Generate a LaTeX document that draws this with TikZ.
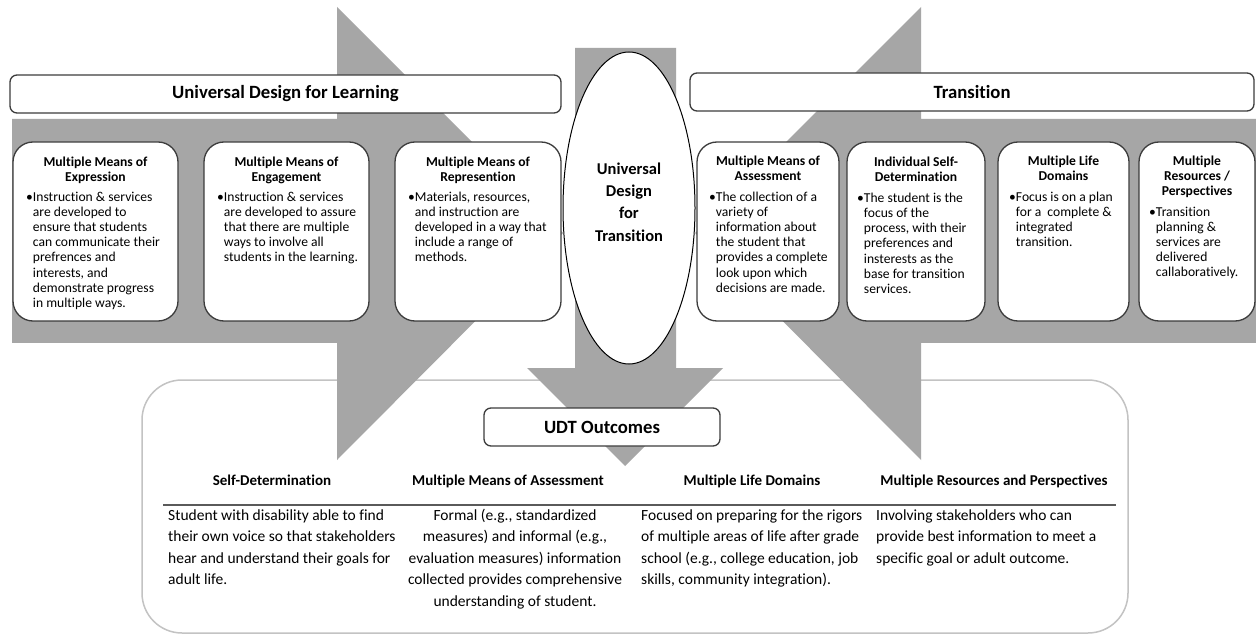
\documentclass[tikz,border=0pt]{standalone}
\usepackage{fontspec}
\setmainfont{Carlito}[Ligatures={NoCommon}]
\usetikzlibrary{shapes.geometric}
\definecolor{arrowgray}{RGB}{166,166,166}
\definecolor{boxline}{RGB}{60,60,60}
\definecolor{outline}{RGB}{195,195,195}
\definecolor{rulecol}{RGB}{90,90,90}
\newcommand\hs[1]{\rule{0pt}{#1}}
\newcommand\ind{\hphantom{•}}
\begin{document}
\begin{tikzpicture}[x=1pt,y=-1pt,
  card/.style={draw=boxline, line width=1.3pt, fill=white, rounded corners=20pt, inner sep=0pt, minimum height=179pt},
  headbox/.style={draw=boxline, line width=1.3pt, fill=white, rounded corners=7pt, inner sep=0pt, minimum height=38pt, font=\fontsize{18.7}{22}\selectfont\bfseries},
  ttl/.style={font=\fontsize{13.6}{15}\selectfont\bfseries, align=center, inner sep=0pt, anchor=north},
  bdy/.style={font=\fontsize{13.6}{15.2}\selectfont, align=left, inner sep=0pt, anchor=north west},
  thd/.style={font=\fontsize{15}{18}\selectfont\bfseries, inner sep=0pt, anchor=base},
  tbl/.style={font=\fontsize{15.5}{21.5}\selectfont, inner sep=0pt},
  bigarrow/.style={fill=arrowgray}
]
\useasboundingbox (0,0) rectangle (1256,636);
\fill[white] (0,0) rectangle (1256,636);

% outcomes frame
\node[draw=outline, line width=1.5pt, rounded corners=40pt, fill=white, inner sep=0pt,
      minimum width=986pt, minimum height=253pt] (out) at (635,506.5) {};

% grey arrows
\fill[bigarrow] (12,119) -- (337,119) -- (337,7) -- (563,233) -- (337,460) -- (337,343) -- (12,343) -- cycle;
\fill[bigarrow] (1256,119) -- (921,119) -- (921,7) -- (695,233) -- (921,460) -- (921,343) -- (1256,343) -- cycle;
\fill[bigarrow] (575,48) -- (676,48) -- (676,368) -- (723,368) -- (625,466) -- (527,368) -- (575,368) -- cycle;

% header bars
\node[headbox, minimum width=551pt] (udl) at (285.5,94) {Universal Design for Learning};
\node[headbox, minimum width=564pt] (trn) at (972,92) {Transition};

% ellipse
\node[draw=black, line width=1pt, fill=white, ellipse, inner sep=0pt,
      minimum width=132pt, minimum height=312pt] (udt) at (629,208) {};
\node[font=\fontsize{16.5}{22.4}\selectfont\bfseries, align=center, inner sep=0pt, anchor=north]
  (udtt) at (629,162) {\hs{12pt}Universal\\Design\\for\\Transition};

% cards
\node[card, minimum width=165pt] (c1) at (95.5,231.5) {};
\node[card, minimum width=165pt] (c2) at (286.5,231.5) {};
\node[card, minimum width=166pt] (c3) at (478,231.5) {};
\node[card, minimum width=142pt] (c4) at (768,231.5) {};
\node[card, minimum width=138pt] (c5) at (916,231.5) {};
\node[card, minimum width=131pt] (c6) at (1063.5,231.5) {};
\node[card, minimum width=116pt] (c7) at (1197,231.5) {};

\node[ttl] (t1) at (95.5,155) {\hs{11pt}Multiple Means of\\Expression};
\node[ttl] (t2) at (286.5,155) {\hs{11pt}Multiple Means of\\Engagement};
\node[ttl] (t3) at (478,155) {\hs{11pt}Multiple Means of\\Represention};
\node[ttl] (t4) at (768,154) {\hs{11pt}Multiple Means of\\Assessment};
\node[ttl] (t5) at (916,155) {\hs{11pt}Individual Self-\\Determination};
\node[ttl] (t6) at (1063.5,154) {\hs{11pt}Multiple Life\\Domains};
\node[ttl] (t7) at (1197,154) {\hs{11pt}Multiple\\Resources /\\Perspectives};

\node[bdy] (d1) at (26,190) {\hs{11pt}•Instruction \& services\\\ind are developed to\\\ind ensure that students\\\ind can communicate their\\\ind prefrences and\\\ind interests, and\\\ind demonstrate progress\\\ind in multiple ways.};
\node[bdy] (d2) at (217,190) {\hs{11pt}•Instruction \& services\\\ind are developed to assure\\\ind that there are multiple\\\ind ways to involve all\\\ind students in the learning.};
\node[bdy] (d3) at (408,190) {\hs{11pt}•Materials, resources,\\\ind and instruction are\\\ind developed in a way that\\\ind include a range of\\\ind methods.};
\node[bdy] (d4) at (709,190) {\hs{11pt}•The collection of a\\\ind variety of\\\ind information about\\\ind the student that\\\ind provides a complete\\\ind look upon which\\\ind decisions are made.};
\node[bdy] (d5) at (857,191) {\hs{11pt}•The student is the\\\ind focus of the\\\ind process, with their\\\ind preferences and\\\ind insterests as the\\\ind base for transition\\\ind services.};
\node[bdy] (d6) at (1009,190) {\hs{11pt}•Focus is on a plan\\\ind for a\ \ complete \&\\\ind integrated\\\ind transition.};
\node[bdy] (d7) at (1149,205) {\hs{11pt}•Transition\\\ind planning \&\\\ind services are\\\ind delivered\\\ind callaboratively.};

% UDT outcomes
\node[headbox, minimum width=236pt] (uo) at (602,427) {UDT Outcomes};

% table
\node[thd] (h1) at (272,485) {Self-Determination};
\node[thd] (h2) at (508,485) {Multiple Means of Assessment};
\node[thd] (h3) at (752,485) {Multiple Life Domains};
\node[thd] (h4) at (994,485) {Multiple Resources and Perspectives};
\coordinate (rl) at (163,505);
\coordinate (rr) at (1116,505);
\draw[rulecol, line width=1.3pt] (rl) -- (rr);

\node[tbl, align=left, anchor=north west] (b1) at (168,508) {\hs{12pt}Student with disability able to find\\their own voice so that stakeholders\\hear and understand their goals for\\adult life.};
\node[tbl, align=center, anchor=north] (b2) at (515,508) {\hs{12pt}Formal (e.g., standardized\\measures) and informal (e.g.,\\evaluation measures) information\\collected provides comprehensive\\understanding of student.};
\node[tbl, align=left, anchor=north west] (b3) at (641,508) {\hs{12pt}Focused on preparing for the rigors\\of multiple areas of life after grade\\school (e.g., college education, job\\skills, community integration).};
\node[tbl, align=left, anchor=north west] (b4) at (876,508) {\hs{12pt}Involving stakeholders who can\\provide best information to meet a\\specific goal or adult outcome.};
\end{tikzpicture}
\end{document}
